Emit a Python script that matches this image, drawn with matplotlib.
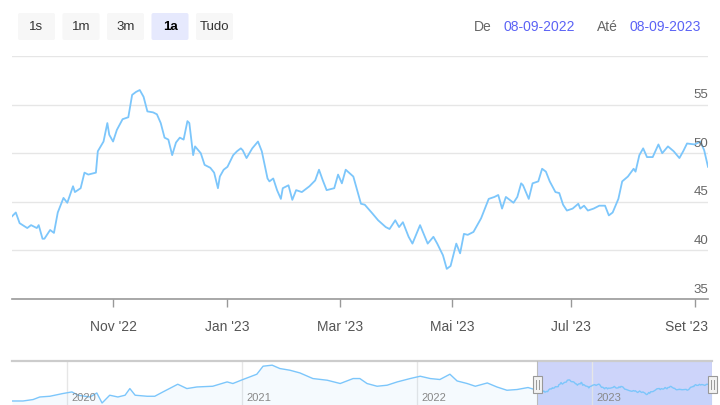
import numpy as np
import pandas as pd
import matplotlib
matplotlib.use("Agg")
import matplotlib.pyplot as plt
import matplotlib.dates as mdates
from matplotlib.patches import FancyBboxPatch, Rectangle

plt.rcParams["font.family"] = ["Liberation Sans", "DejaVu Sans"]

START = pd.Timestamp("2022-09-08")

# main series (selected range 1a): position on the ordinal axis (days after 08-09-2022) and price
days = [0, 2, 4, 8, 10, 13, 14, 16, 17, 20, 22, 24, 27, 29, 32, 33, 36, 38, 40, 44,
        45, 48, 50, 51, 53, 55, 58, 61, 63, 65, 67, 69, 71, 74, 76, 78, 80, 82, 84, 86,
        88, 90, 92, 93, 95, 96, 99, 101, 104, 106, 108, 109, 111, 113, 116, 118,
        120, 121, 123, 126, 129, 131, 134, 135, 137, 139, 141, 142, 145, 147, 149, 152,
        156, 159, 161, 163, 165, 169, 171, 173, 175, 179, 183, 185, 189, 192, 196, 198,
        201, 203, 205, 208, 210, 214, 218, 221, 223, 226, 228, 230, 233, 235, 237, 239, 242,
        246, 247, 250, 253, 255, 257, 259, 261, 263, 265, 267, 268, 271, 273, 276, 278,
        280, 282, 285, 287, 289, 291, 294, 297, 298, 300, 302, 305, 308, 311, 313, 315,
        318, 320, 323, 326, 327, 329, 331, 333, 336, 339, 341, 344, 347, 350, 352, 354,
        358, 361, 363, 365]
price = [43.5, 43.9, 42.8, 42.3, 42.6, 42.3, 42.6, 41.2, 41.2, 42.1, 41.8, 43.9, 45.4, 44.9,
         46.6, 46.0, 46.4, 48.0, 47.8, 48.0, 50.2, 51.2, 53.1, 51.9, 51.2, 52.4, 53.5, 53.7,
         56.0, 56.3, 56.5, 55.8, 54.3, 54.2, 54.0, 53.1, 51.6, 51.4, 49.8, 51.1, 51.6, 51.4,
         53.3, 53.1, 49.8, 50.7, 50.0, 48.8, 48.5, 48.0, 46.4, 47.6, 48.3, 48.6, 49.8, 50.2,
         50.5, 50.3, 49.5, 50.5, 51.2, 50.2, 47.4, 47.1, 47.4, 46.2, 45.3, 46.4, 46.7, 45.2,
         46.2, 46.0, 46.6, 47.2, 48.3, 47.2, 46.2, 46.4, 47.8, 46.9, 48.3, 47.6, 44.8, 44.7,
         43.8, 43.1, 42.4, 42.2, 43.1, 42.4, 42.9, 41.4, 40.7, 42.6, 40.7, 41.4, 40.7, 39.5,
         38.1, 38.4, 40.7, 39.7, 41.7, 41.6, 41.9,
         43.3, 43.8, 45.3, 45.5, 45.7, 44.3, 45.5, 45.2, 44.9, 45.5, 46.9, 46.7, 45.3, 46.9,
         47.1, 48.4, 48.1, 47.1, 46.0, 45.9, 44.7, 44.1, 44.3, 44.8, 44.3, 44.6, 44.1, 44.3,
         44.6, 44.6, 43.6, 43.9, 45.3, 47.1, 47.6, 48.4, 48.1, 49.8, 50.5, 49.6, 49.6, 50.9,
         50.0, 50.7, 50.2, 49.5, 50.2, 51.0, 50.9, 51.2, 50.3, 48.6]

# older history shown only in the navigator: days relative to 08-09-2022
hist_days = [-1096, -1073, -1052, -1038, -1017, -990, -971, -958, -933, -919,
             -908, -892, -875, -860, -850, -839, -814, -798, -781, -750,
             -731, -710, -677, -647, -635, -614, -585, -572, -553, -537,
             -516, -495, -468, -438, -411, -384, -370, -355, -334, -313,
             -292, -265, -244, -223, -203, -182, -167, -146, -129, -104,
             -84, -63, -42, -19]
hist_price = [30.1, 30.1, 31.9, 35.1, 36.0, 39.4, 41.4, 37.3, 35.1, 40.1,
              27.6, 37.3, 35.1, 37.3, 45.6, 37.3, 36.0, 36.0, 41.4, 51.0,
              45.6, 47.6, 48.5, 53.9, 51.9, 56.9, 63.5, 73.5, 74.8, 70.6,
              68.5, 65.1, 58.1, 56.0, 51.9, 58.1, 58.1, 51.9, 48.5, 49.8,
              53.9, 58.1, 61.0, 58.1, 56.9, 63.5, 55.1, 51.9, 48.5, 52.6,
              47.6, 43.5, 44.4, 46.9]

# ordinal axis: month ticks sit where the trading days put them
tick_days = [53, 113, 172, 231, 293, 358]
tick_labels = ["Nov '22", "Jan '23", "Mar '23", "Mai '23", "Jul '23", "Set '23"]
y_ticks = [35, 40, 45, 50, 55]
y_max = 60
nav_years = [2020, 2021, 2022, 2023]
buttons = ["1s", "1m", "3m", "1a", "Tudo"]
active_button = "1a"
date_from, date_to = "08-09-2022", "08-09-2023"

LINE = "#7cc6fb"
GRID = "#e6e6e6"
W, H = 720, 405


def to_dates(d):
    return (START + pd.to_timedelta(d, unit="D")).to_pydatetime()


def fig_rect(x0, y0, x1, y1):
    # pixel box (top-left origin) -> figure fraction
    return [x0 / W, 1 - y1 / H, (x1 - x0) / W, (y1 - y0) / H]


fig = plt.figure(figsize=(W / 100, H / 100), dpi=100)

# ---- main chart
ax = fig.add_axes(fig_rect(12, 56, 708, 299))
ax.plot(to_dates(days), price, color=LINE, lw=1.3, solid_joinstyle="round", zorder=3)
x0, x1 = START.to_pydatetime(), to_dates([365])[0]
ax.set_xlim(x0, x1)
ax.set_ylim(y_ticks[0], y_max)
ax.set_yticks(y_ticks + [y_max])
ax.yaxis.grid(True, color=GRID, lw=1)
ax.tick_params(axis="y", length=0, labelleft=False)
for s in ["left", "right", "top"]:
    ax.spines[s].set_visible(False)
ax.spines["bottom"].set_color("#999999")
ax.spines["bottom"].set_linewidth(1.2)
ax.set_facecolor("none")

for v in y_ticks:
    ax.annotate(str(v), xy=(1, v), xycoords=("axes fraction", "data"),
                xytext=(0, 2.5), textcoords="offset points", ha="right", va="bottom",
                fontsize=9.5, color="#666666")

ax.set_xticks(to_dates(tick_days))
ax.tick_params(axis="x", length=6, width=1, color="#999999", labelbottom=False)
fig.canvas.draw()
renderer = fig.canvas.get_renderer()
right_px = ax.get_window_extent().x1
for t, txt in zip(ax.get_xticks(), tick_labels):
    lab = ax.annotate(txt, xy=(t, 0), xycoords=("data", "axes fraction"),
                      xytext=(0, -20), textcoords="offset points", ha="center",
                      va="center", fontsize=10, color="#555555")
    # justify a label that would run past the plot edge
    if lab.get_window_extent(renderer).x1 > right_px:
        lab.xy = (1, 0)
        lab.xycoords = ("axes fraction", "axes fraction")
        lab.set_ha("right")

# ---- navigator
nav = fig.add_axes(fig_rect(12, 361, 712, 405))
nav_d = to_dates(hist_days + days)
nav_p = hist_price + price
nav.plot(nav_d, nav_p, color=LINE, lw=1, zorder=3)
nav.fill_between(nav_d, nav_p, 0, color=LINE, alpha=0.07, lw=0, zorder=2)
nav.set_xlim(to_dates([hist_days[0]])[0], x1)
nav.set_ylim(25.1, 80)
nav.axvspan(x0, x1, color="#cdd4fa", lw=0, zorder=1)
for yr in nav_years:
    yd = pd.Timestamp(f"{yr}-01-01").to_pydatetime()
    nav.axvline(yd, color=GRID, lw=1, zorder=1.5)
    nav.annotate(str(yr), xy=(yd, 0), xycoords=("data", "axes fraction"),
                 xytext=(3, 5), textcoords="offset points", ha="left", va="center",
                 fontsize=8, color="#888888")
for s in ["left", "right", "bottom"]:
    nav.spines[s].set_visible(False)
nav.spines["top"].set_color("#cccccc")
nav.spines["top"].set_linewidth(1.6)
nav.set_xticks([])
nav.set_yticks([])
nav.set_facecolor("none")
for xe in (x0, x1):
    nav.axvline(xe, color="#bbbbbb", lw=0.8, zorder=4)

# ---- overlay for range selector, date inputs and navigator handles
ui = fig.add_axes([0, 0, 1, 1])
ui.set_xlim(0, W)
ui.set_ylim(H, 0)
ui.axis("off")
ui.patch.set_visible(False)

for i, b in enumerate(buttons):
    bx = 18 + i * 44.5
    active = b == active_button
    ui.add_patch(FancyBboxPatch((bx, 13), 37, 27, boxstyle="round,pad=0,rounding_size=2",
                                fc="#e6e9fd" if active else "#f7f7f7", ec="none"))
    ui.text(bx + 18.5, 27, b, ha="center", va="center", fontsize=9.5,
            color="#000000" if active else "#333333",
            fontweight="bold" if active else "normal")

BLUE = "#5b63f5"
ui.text(492, 27, "De", ha="right", va="center", fontsize=10, color="#666666")
ui.text(503, 27, date_from, ha="left", va="center", fontsize=10, color=BLUE)
ui.text(618, 27, "Até", ha="right", va="center", fontsize=10, color="#666666")
ui.text(629, 27, date_to, ha="left", va="center", fontsize=10, color=BLUE)

for xe in (x0, x1):
    px = nav.transData.transform((mdates.date2num(xe), 30))[0]
    ui.add_patch(Rectangle((px - 4.5, 376), 9, 17, fc="#f2f2f2", ec="#999999", lw=0.8, zorder=5))
    for dx in (-1.5, 1.5):
        ui.plot([px + dx, px + dx], [380, 389], color="#999999", lw=0.7, zorder=6)

fig.savefig("out.png", dpi=100)
